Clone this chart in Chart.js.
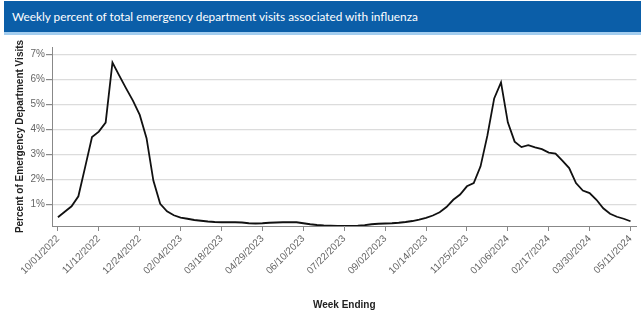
<!DOCTYPE html>
<html>
<head>
<meta charset="utf-8">
<script src="https://cdn.jsdelivr.net/npm/chart.js@4"></script>
<style>
body{margin:0;background:#fff;overflow:hidden}
#head{position:absolute;left:4px;top:1px;width:637px;background:#0b5ea8;border-bottom:3px solid #a3cdef;color:#fff;font-family:Lato,sans-serif;font-size:11.8px;line-height:31px;padding-left:8px;box-sizing:border-box;height:34px}
#wrap{position:absolute;left:0;top:0}
</style>
</head>
<body>
<div id="wrap"><canvas id="flu" width="641" height="313"></canvas></div>
<div id="head">Weekly percent of total emergency department visits associated with influenza</div>
<script>
// weekly % of ED visits, 10/01/2022 .. 05/11/2024
const fluPct=[0.48,0.70,0.92,1.32,2.5,3.69,3.91,4.27,6.68,6.15,5.64,5.15,4.58,3.65,1.95,1.02,0.72,0.56,0.47,0.42,
0.37,0.34,0.31,0.29,0.28,0.28,0.28,0.27,0.24,0.23,0.24,0.26,0.27,0.28,0.28,0.28,0.24,0.20,0.17,0.15,
0.14,0.13,0.13,0.13,0.14,0.16,0.20,0.22,0.23,0.24,0.26,0.29,0.33,0.39,0.46,0.55,0.68,0.89,1.18,1.39,
1.72,1.85,2.52,3.75,5.24,5.88,4.28,3.51,3.29,3.37,3.28,3.21,3.07,3.03,2.75,2.45,1.85,1.55,1.45,1.18,
0.84,0.62,0.50,0.42,0.32];
const tickLabels=['10/01/2022','11/12/2022','12/24/2022','02/04/2023','03/18/2023','04/29/2023','06/10/2023',
'07/22/2023','09/02/2023','10/14/2023','11/25/2023','01/06/2024','02/17/2024','03/30/2024','05/11/2024'];
const yTicks=[1,2,3,4,5,6,7];

const pts=fluPct.map((v,i)=>({x:i,y:v}));

new Chart(document.getElementById('flu'),{
  type:'line',
  data:{datasets:[{data:pts,borderColor:'#111',borderWidth:1.8,pointRadius:0,tension:0,fill:false}]},
  options:{
    responsive:false,animation:false,
    layout:{padding:{top:47,right:0,bottom:0,left:0}},
    plugins:{legend:{display:false},tooltip:{enabled:false}},
    scales:{
      x:{type:'linear',min:-0.87,max:84.87,
        afterBuildTicks:s=>{s.ticks=tickLabels.map((t,i)=>({value:i*6}));},
        afterFit:s=>{s.height=87;},
        ticks:{autoSkip:false,minRotation:45,maxRotation:45,color:'#666',padding:2,
          font:{family:'Arial',size:10},callback:(v,i)=>tickLabels[i]},
        grid:{drawOnChartArea:false,drawTicks:true,tickLength:5,tickColor:'#888'},
        border:{color:'#888'},
        title:{display:true,text:'Week Ending',color:'#222',font:{family:'Arial',size:10,weight:'bold'},padding:{top:0,bottom:2}}
      },
      y:{min:0.13,max:7.3,
        afterBuildTicks:s=>{s.ticks=yTicks.map(v=>({value:v}));},
        afterFit:s=>{s.width=52;},
        ticks:{color:'#666',padding:1,font:{family:'Arial',size:10},callback:v=>v+'%'},
        grid:{color:'#dcdcdc',tickColor:'#888',tickLength:6,lineWidth:1.2},
        border:{color:'#888'},
        title:{display:true,text:'Percent of Emergency Department Visits',color:'#222',font:{family:'Arial',size:10,weight:'bold'},padding:{top:14,bottom:0}}
      }
    }
  }
});
</script>
</body>
</html>
